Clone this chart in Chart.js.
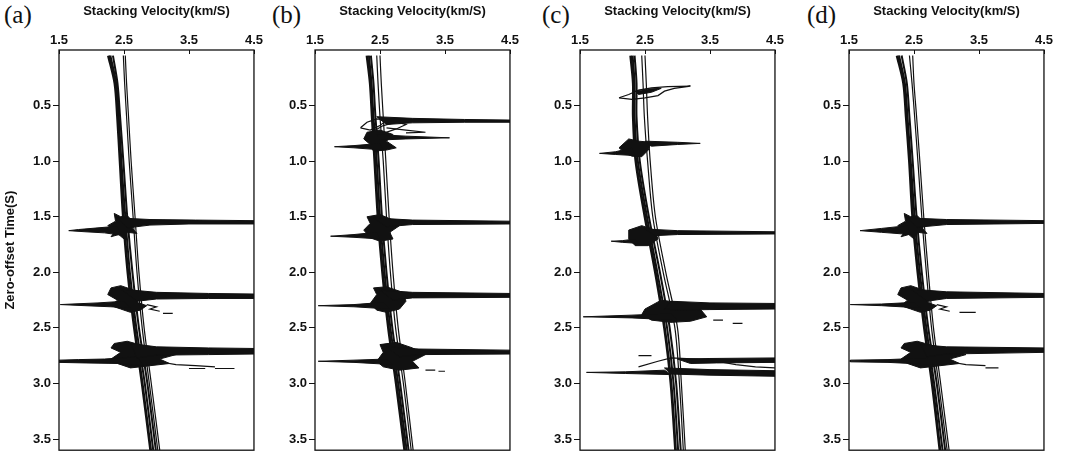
<!DOCTYPE html>
<html>
<head>
<meta charset="utf-8">
<script src="https://cdn.jsdelivr.net/npm/chart.js@4.4.0/dist/chart.umd.min.js"></script>
<style>
  body { margin: 0; background: #fff; }
  #wrap { position: relative; width: 1065px; height: 460px; overflow: hidden; }
  .panel { position: absolute; top: 0; height: 460px; }
  .tag { position: absolute; top: 1px; font-family: "Liberation Serif", "DejaVu Serif", serif; font-size: 25px; color: #111; }
</style>
</head>
<body>
<div id="wrap">
  <div class="tag" style="left:4px">(a)</div>
  <div class="tag" style="left:272px">(b)</div>
  <div class="tag" style="left:542px">(c)</div>
  <div class="tag" style="left:807px">(d)</div>
  <div class="panel" style="left:0px;width:264px"><canvas id="chartA"></canvas></div>
  <div class="panel" style="left:268px;width:252px"><canvas id="chartB"></canvas></div>
  <div class="panel" style="left:533px;width:252px"><canvas id="chartC"></canvas></div>
  <div class="panel" style="left:802px;width:252px"><canvas id="chartD"></canvas></div>
</div>
<script>
// axis ticks
const velTicks = [1.5, 2.5, 3.5, 4.5];
const timeTicks = [0.5, 1.0, 1.5, 2.0, 2.5, 3.0, 3.5];

// times where the velocity trend lines are sampled (s)
const trendTimes = [0.05, 0.3, 0.6, 1.0, 1.5, 2.0, 2.5, 3.0, 3.6];
const trendWidths = [2.8, 2, 2, 1.2, 1.2];

// --- panel (a) ---
const aLines = [
  [2.26, 2.36, 2.40, 2.44, 2.49, 2.56, 2.66, 2.78, 2.91],
  [2.29, 2.38, 2.42, 2.46, 2.52, 2.59, 2.69, 2.82, 2.95],
  [2.33, 2.40, 2.44, 2.49, 2.55, 2.63, 2.73, 2.86, 2.99],
  [2.49, 2.51, 2.54, 2.58, 2.64, 2.70, 2.78, 2.89, 3.02],
  [2.52, 2.54, 2.57, 2.61, 2.67, 2.73, 2.81, 2.92, 3.05]
];
const aFills = [
  [[2.40,1.51],[2.9,1.525],[3.6,1.53],[4.5,1.535],[4.5,1.565],[3.5,1.565],[2.9,1.575],[2.55,1.60]],
  [[2.40,1.585],[2.1,1.60],[1.8,1.615],[1.65,1.625],[1.9,1.635],[2.2,1.645],[2.45,1.665]],
  [[2.35,1.47],[2.45,1.50],[2.55,1.49],[2.6,1.52],[2.75,1.55],[2.62,1.60],[2.7,1.65],[2.55,1.64],[2.5,1.70],[2.42,1.66],[2.3,1.68],[2.38,1.62],[2.25,1.58],[2.37,1.54]],
  [[2.45,2.15],[3.0,2.18],[3.8,2.19],[4.5,2.195],[4.5,2.235],[3.8,2.235],[3.0,2.24],[2.7,2.26]],
  [[2.5,2.26],[2.1,2.275],[1.7,2.285],[1.52,2.29],[1.9,2.30],[2.3,2.31],[2.6,2.32]],
  [[2.3,2.14],[2.45,2.12],[2.6,2.15],[2.8,2.2],[2.7,2.27],[2.85,2.30],[2.75,2.34],[2.6,2.36],[2.45,2.33],[2.3,2.30],[2.4,2.25],[2.25,2.20]],
  [[2.6,2.64],[3.0,2.67],[3.8,2.68],[4.5,2.685],[4.5,2.735],[3.8,2.74],[3.0,2.745],[2.7,2.77]],
  [[2.7,2.76],[2.2,2.78],[1.8,2.785],[1.5,2.79],[1.5,2.81],[1.9,2.815],[2.4,2.82],[2.8,2.84]],
  [[2.35,2.64],[2.55,2.62],[2.8,2.66],[3.1,2.70],[3.3,2.74],[3.05,2.78],[3.2,2.82],[2.9,2.84],[2.6,2.86],[2.4,2.82],[2.3,2.78],[2.45,2.72],[2.3,2.68]]
];
const aOpen = [
  [[2.85,2.29],[3.0,2.31],[2.9,2.33],[3.05,2.35]],
  [[3.1,2.37],[3.25,2.37]],
  [[3.0,2.80],[3.3,2.83],[3.6,2.84],[3.9,2.85]],
  [[3.5,2.865],[3.75,2.865]],
  [[3.9,2.865],[4.2,2.865]]
];

// --- panel (b) ---
const bLines = [
  [2.30, 2.35, 2.38, 2.42, 2.47, 2.54, 2.63, 2.75, 2.88],
  [2.33, 2.37, 2.40, 2.45, 2.50, 2.57, 2.66, 2.78, 2.91],
  [2.36, 2.40, 2.43, 2.48, 2.53, 2.60, 2.69, 2.81, 2.94],
  [2.45, 2.47, 2.50, 2.55, 2.60, 2.66, 2.74, 2.86, 2.98],
  [2.50, 2.52, 2.55, 2.59, 2.64, 2.70, 2.78, 2.89, 3.01]
];
const bFills = [
  [[2.45,0.60],[3.0,0.615],[3.8,0.625],[4.5,0.63],[4.5,0.65],[3.8,0.65],[3.0,0.655],[2.6,0.67]],
  [[2.45,0.76],[2.9,0.775],[3.57,0.79],[2.9,0.80],[2.5,0.81]],
  [[2.5,0.84],[2.1,0.86],[1.80,0.87],[2.1,0.88],[2.55,0.90]],
  [[2.3,0.74],[2.5,0.72],[2.7,0.76],[2.6,0.82],[2.75,0.88],[2.6,0.90],[2.4,0.91],[2.35,0.85],[2.25,0.80]],
  [[2.4,1.51],[3.0,1.53],[4.5,1.54],[4.5,1.565],[3.0,1.57],[2.6,1.59]],
  [[2.45,1.64],[2.1,1.66],[1.74,1.675],[2.1,1.685],[2.5,1.70]],
  [[2.3,1.50],[2.5,1.48],[2.7,1.53],[2.8,1.58],[2.65,1.64],[2.7,1.70],[2.5,1.72],[2.35,1.69],[2.25,1.62],[2.35,1.56]],
  [[2.5,2.16],[3.0,2.18],[4.5,2.19],[4.5,2.225],[3.0,2.23],[2.7,2.25]],
  [[2.55,2.27],[2.1,2.29],[1.55,2.30],[2.1,2.31],[2.65,2.33]],
  [[2.4,2.14],[2.6,2.13],[2.85,2.18],[2.9,2.26],[2.8,2.33],[2.6,2.36],[2.45,2.34],[2.35,2.28],[2.45,2.20]],
  [[2.6,2.67],[3.1,2.69],[4.5,2.70],[4.5,2.735],[3.1,2.74],[2.8,2.76]],
  [[2.6,2.78],[2.1,2.79],[1.55,2.80],[2.1,2.81],[2.7,2.83]],
  [[2.5,2.65],[2.75,2.63],[3.0,2.68],[3.2,2.74],[3.0,2.80],[3.1,2.86],[2.8,2.88],[2.55,2.85],[2.45,2.80],[2.55,2.72]]
];
const bOpen = [
  [[2.2,0.70],[2.3,0.65],[2.45,0.62],[2.6,0.63],[2.5,0.68],[2.35,0.72],[2.2,0.70]],
  [[2.4,0.73],[2.55,0.68],[2.75,0.65],[2.9,0.67],[2.75,0.71],[2.55,0.75],[2.4,0.73]],
  [[2.6,0.70],[2.9,0.72],[3.2,0.74],[2.9,0.745]],
  [[3.2,2.88],[3.35,2.88]],
  [[3.4,2.89],[3.5,2.89]]
];

// --- panel (c) ---
const cLines = [
  [2.28, 2.32, 2.32, 2.36, 2.50, 2.66, 2.80, 2.90, 2.97],
  [2.31, 2.34, 2.34, 2.39, 2.53, 2.69, 2.84, 2.94, 3.01],
  [2.34, 2.37, 2.37, 2.42, 2.56, 2.73, 2.88, 2.98, 3.05],
  [2.45, 2.47, 2.49, 2.54, 2.62, 2.78, 2.96, 3.03, 3.09],
  [2.50, 2.52, 2.54, 2.58, 2.66, 2.82, 3.00, 3.06, 3.12]
];
const cFills = [
  [[2.35,0.37],[2.55,0.35],[2.75,0.345],[2.6,0.38],[2.4,0.40]],
  [[2.5,0.82],[3.0,0.83],[3.35,0.84],[3.0,0.85],[2.6,0.865]],
  [[2.3,0.88],[2.05,0.915],[1.8,0.93],[2.05,0.94],[2.35,0.95]],
  [[2.1,0.88],[2.25,0.80],[2.4,0.82],[2.6,0.83],[2.55,0.90],[2.45,0.96],[2.3,0.955],[2.2,0.93]],
  [[2.5,1.61],[3.0,1.625],[4.5,1.635],[4.5,1.655],[3.0,1.66],[2.65,1.67]],
  [[2.35,1.70],[2.15,1.715],[1.98,1.72],[2.15,1.73],[2.4,1.74]],
  [[2.25,1.62],[2.45,1.58],[2.65,1.62],[2.7,1.70],[2.55,1.76],[2.35,1.76],[2.25,1.70]],
  [[2.9,2.26],[3.5,2.275],[4.5,2.28],[4.5,2.33],[3.5,2.335],[3.0,2.34],[2.8,2.33]],
  [[2.9,2.37],[2.3,2.385],[1.55,2.40],[2.3,2.41],[3.0,2.43]],
  [[2.5,2.33],[2.75,2.25],[3.0,2.27],[3.35,2.33],[3.45,2.40],[3.2,2.44],[2.9,2.45],[2.6,2.43],[2.45,2.38]],
  [[3.0,2.78],[3.5,2.775],[4.5,2.77],[4.5,2.81],[3.6,2.815],[3.2,2.82]],
  [[2.8,2.86],[3.5,2.875],[4.5,2.885],[4.5,2.935],[3.5,2.925],[2.9,2.915]],
  [[2.8,2.88],[2.2,2.895],[1.6,2.90],[2.2,2.91],[2.9,2.92]]
];
const cOpen = [
  [[2.1,0.43],[2.25,0.40],[2.4,0.36],[2.6,0.34],[2.85,0.33],[3.2,0.325],[2.95,0.345],[2.8,0.37],[2.7,0.41],[2.5,0.43],[2.3,0.445],[2.1,0.43]],
  [[3.55,2.43],[3.7,2.43]],
  [[3.85,2.46],[4.0,2.46]],
  [[2.4,2.85],[2.7,2.80],[2.9,2.77],[3.3,2.78],[3.6,2.80],[3.9,2.83],[4.2,2.85],[4.5,2.86]],
  [[2.4,2.75],[2.6,2.75]]
];

// --- panel (d) ---
const dLines = [
  [2.24, 2.34, 2.38, 2.43, 2.48, 2.56, 2.66, 2.78, 2.90],
  [2.27, 2.36, 2.40, 2.45, 2.51, 2.59, 2.69, 2.81, 2.94],
  [2.31, 2.39, 2.43, 2.48, 2.54, 2.62, 2.72, 2.85, 2.98],
  [2.43, 2.47, 2.51, 2.56, 2.62, 2.69, 2.77, 2.88, 3.01],
  [2.48, 2.50, 2.54, 2.59, 2.65, 2.72, 2.80, 2.91, 3.04]
];
const dFills = [
  [[2.4,1.51],[3.0,1.525],[4.5,1.535],[4.5,1.56],[3.0,1.57],[2.55,1.595]],
  [[2.4,1.58],[2.0,1.605],[1.67,1.625],[2.0,1.64],[2.45,1.66]],
  [[2.35,1.47],[2.45,1.50],[2.55,1.49],[2.6,1.52],[2.75,1.55],[2.62,1.60],[2.7,1.65],[2.55,1.64],[2.5,1.70],[2.42,1.66],[2.3,1.68],[2.38,1.62],[2.25,1.58],[2.37,1.54]],
  [[2.45,2.15],[3.0,2.175],[4.5,2.19],[4.5,2.225],[3.0,2.235],[2.7,2.26]],
  [[2.5,2.27],[2.0,2.285],[1.52,2.29],[2.0,2.30],[2.6,2.32]],
  [[2.3,2.14],[2.45,2.12],[2.6,2.15],[2.8,2.2],[2.7,2.27],[2.85,2.30],[2.75,2.34],[2.6,2.36],[2.45,2.33],[2.3,2.30],[2.4,2.25],[2.25,2.20]],
  [[2.6,2.65],[3.0,2.67],[4.5,2.68],[4.5,2.72],[3.0,2.735],[2.7,2.76]],
  [[2.7,2.77],[2.1,2.785],[1.52,2.79],[1.52,2.805],[2.1,2.81],[2.8,2.83]],
  [[2.35,2.64],[2.55,2.62],[2.8,2.66],[3.1,2.70],[3.3,2.74],[3.05,2.78],[3.2,2.82],[2.9,2.84],[2.6,2.86],[2.4,2.82],[2.3,2.78],[2.45,2.72],[2.3,2.68]]
];
const dOpen = [
  [[2.85,2.29],[3.0,2.31],[2.9,2.33],[3.05,2.35]],
  [[3.2,2.36],[3.45,2.36]],
  [[3.0,2.80],[3.3,2.83],[3.6,2.84]],
  [[3.6,2.86],[3.8,2.86]]
];

// frame round the plot plus short inward ticks on the top axis
const boxPlugin = {
  id: 'box',
  afterDraw(chart) {
    const a = chart.chartArea, ctx = chart.ctx, xs = chart.scales.x;
    ctx.save();
    ctx.strokeStyle = '#111';
    ctx.lineWidth = 1.3;
    ctx.strokeRect(a.left, a.top, a.right - a.left, a.bottom - a.top);
    ctx.lineWidth = 1;
    velTicks.forEach(v => {
      const px = Math.round(xs.getPixelForValue(v)) + 0.5;
      ctx.beginPath();
      ctx.moveTo(px, a.top);
      ctx.lineTo(px, a.top + 4);
      ctx.stroke();
    });
    ctx.restore();
  }
};

function toPts(arr) {
  return arr.map(p => ({ x: p[0], y: p[1] }));
}

function makePanel(id, lines, fills, opens, leftW, showTitle) {
  const datasets = [];
  fills.forEach(poly => {
    const pts = toPts(poly);
    pts.push(pts[0]);
    datasets.push({ data: pts, fill: 'shape', backgroundColor: '#111', borderColor: '#111', borderWidth: 1, pointRadius: 0, showLine: true });
  });
  opens.forEach(pl => {
    datasets.push({ data: toPts(pl), fill: false, borderColor: '#111', borderWidth: 1.2, pointRadius: 0, showLine: true });
  });
  lines.forEach((vs, i) => {
    datasets.push({ data: vs.map((v, k) => ({ x: v, y: trendTimes[k] })), fill: false, borderColor: '#111', borderWidth: trendWidths[i], pointRadius: 0, showLine: true, tension: 0.3 });
  });

  const fontTick = { family: 'Liberation Sans, Arial, sans-serif', size: 13, weight: 'bold' };
  const fontTitle = { family: 'Liberation Sans, Arial, sans-serif', size: 13, weight: 'bold' };
  new Chart(document.getElementById(id), {
    type: 'scatter',
    data: { datasets },
    plugins: [boxPlugin],
    options: {
      responsive: true,
      maintainAspectRatio: false,
      animation: false,
      layout: { padding: { top: 0, bottom: 5, right: 4, left: 0 } },
      plugins: { legend: { display: false }, tooltip: { enabled: false } },
      scales: {
        x: {
          type: 'linear', position: 'top', min: 1.5, max: 4.5,
          afterBuildTicks: s => { s.ticks = velTicks.map(v => ({ value: v })); },
          afterFit: s => { s.height = 50; },
          ticks: { color: '#111', font: fontTick, padding: 1, maxRotation: 0, callback: v => v.toFixed(1) },
          grid: { drawOnChartArea: false, drawTicks: true, tickLength: 1, color: 'rgba(0,0,0,0)' },
          border: { display: false },
          title: { display: true, text: 'Stacking Velocity(km/S)', color: '#111', font: fontTitle, padding: { top: 4, bottom: 0 } }
        },
        y: {
          type: 'linear', reverse: true, min: 0, max: 3.6,
          afterBuildTicks: s => { s.ticks = timeTicks.map(v => ({ value: v })); },
          afterFit: s => { s.width = leftW; },
          ticks: { color: '#111', font: fontTick, padding: 2, callback: v => v.toFixed(1) },
          grid: { drawOnChartArea: false, tickLength: 6, color: '#111' },
          border: { display: false },
          title: { display: showTitle, text: 'Zero-offset Time(S)', color: '#111', font: fontTitle, padding: { top: 3, bottom: 0 } }
        }
      }
    }
  });
}

makePanel('chartA', aLines, aFills, aOpen, 59, true);
makePanel('chartB', bLines, bFills, bOpen, 47, false);
makePanel('chartC', cLines, cFills, cOpen, 47, false);
makePanel('chartD', dLines, dFills, dOpen, 47, false);
</script>
</body>
</html>
